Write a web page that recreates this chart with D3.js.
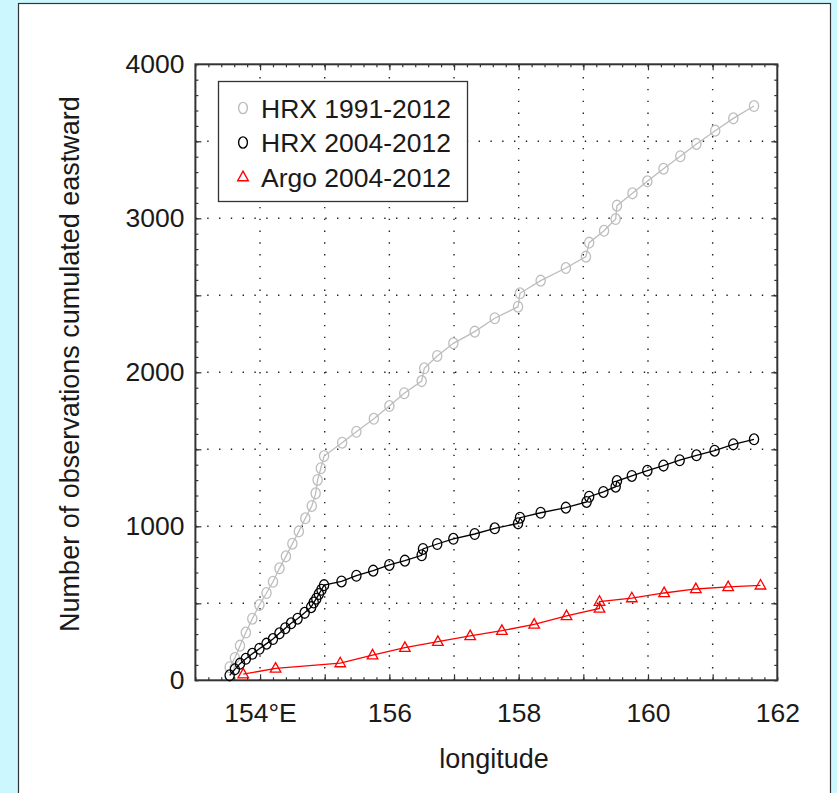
<!DOCTYPE html>
<html>
<head>
<meta charset="utf-8">
<script src="https://cdn.jsdelivr.net/npm/d3@7"></script>
<style>
  body { margin: 0; background: #ccf7ff; }
  svg { display: block; }
  text { font-family: "Liberation Sans", Arial, sans-serif; fill: #1a1a1a; }
  .grid line { stroke: #222; stroke-width: 1.4; stroke-dasharray: 1.4 10.4; }
  .axis line { stroke: #333; stroke-width: 1.2; }
  .axis text { font-size: 26.5px; }
</style>
</head>
<body>
<svg id="chart" width="837" height="793"></svg>
<script>
// cumulated counts (longitude, count)
var hrxAllLon = [153.53, 153.61, 153.69, 153.78, 153.88, 153.99, 154.10, 154.20, 154.30, 154.40,
  154.50, 154.60, 154.70, 154.80, 154.86, 154.89, 154.94, 154.99, 155.27, 155.49, 155.76,
  156.00, 156.23, 156.50, 156.54, 156.74, 156.99, 157.32, 157.63, 157.99, 158.02, 158.34,
  158.73, 159.04, 159.09, 159.32, 159.50, 159.52, 159.76, 159.99, 160.24, 160.50, 160.75,
  161.04, 161.32, 161.64];
var hrxAllObs = [85, 145, 225, 310, 400, 489, 567, 640, 727, 805,
  887, 967, 1052, 1132, 1214, 1301, 1377, 1456, 1543, 1614, 1698,
  1781, 1864, 1943, 2026, 2106, 2188, 2264, 2351, 2426, 2513, 2595,
  2677, 2751, 2842, 2919, 2995, 3082, 3162, 3240, 3322, 3403, 3483,
  3569, 3649, 3729];

var hrxRecLon = [153.53, 153.61, 153.69, 153.78, 153.88, 153.99, 154.10, 154.20, 154.30, 154.39,
  154.48, 154.58, 154.69, 154.79, 154.83, 154.87, 154.91, 154.95, 154.99, 155.26, 155.49,
  155.75, 156.00, 156.24, 156.50, 156.52, 156.74, 156.99, 157.32, 157.63, 157.99, 158.02,
  158.34, 158.73, 159.05, 159.09, 159.31, 159.50, 159.52, 159.75, 159.99, 160.24, 160.49,
  160.75, 161.03, 161.32, 161.64];
var hrxRecObs = [32, 71, 108, 140, 172, 205, 238, 268, 305, 338,
  370, 400, 438, 475, 505, 530, 560, 588, 618, 642, 679,
  712, 749, 777, 812, 853, 885, 919, 950, 987, 1019, 1056,
  1088, 1121, 1158, 1192, 1223, 1257, 1294, 1327, 1361, 1394, 1429,
  1461, 1491, 1532, 1565];

var argoLon = [153.74, 154.24, 155.24, 155.74, 156.24, 156.75, 157.25, 157.74, 158.24, 158.74,
  159.25, 159.25, 159.75, 160.25, 160.74, 161.24, 161.74];
var argoObs = [40, 77, 112, 163, 212, 251, 288, 322, 363, 418,
  467, 511, 534, 567, 593, 606, 617];

var seriesNames = ["HRX 1991-2012", "HRX 2004-2012", "Argo 2004-2012"];
var xLabelTicks = [154, 156, 158, 160, 162];
var yLabelTicks = [0, 1000, 2000, 3000, 4000];

var svg = d3.select("#chart");

var dims = { left: 195.4, right: 777.3, top: 64.3, bottom: 680.3 };

// white panel
svg.append("rect")
  .attr("x", 18.5).attr("y", 3.5)
  .attr("width", 812).attr("height", 800)
  .attr("fill", "white")
  .attr("stroke", "#333").attr("stroke-width", 1.2);

var xScale = d3.scaleLinear().domain([153, 162]).range([dims.left, dims.right]);
var yScale = d3.scaleLinear().domain([0, 4000]).range([dims.bottom, dims.top]);

// dotted grid
var grid = svg.append("g").attr("class", "grid");
grid.selectAll(".vg")
  .data(d3.range(154, 162))
  .enter().append("line")
  .attr("x1", (d) => xScale(d)).attr("x2", (d) => xScale(d))
  .attr("y1", dims.bottom).attr("y2", dims.top);
grid.selectAll(".hg")
  .data(d3.range(500, 4000, 500))
  .enter().append("line")
  .attr("y1", (d) => yScale(d)).attr("y2", (d) => yScale(d))
  .attr("x1", dims.left).attr("x2", dims.right);

// axes: inward ticks on all four sides
function drawAxis(axis, transform) {
  var g = svg.append("g").attr("class", "axis").attr("transform", transform).call(axis);
  g.select(".domain").remove();
  return g;
}
var minorX = d3.range(153, 162.01, 0.2).map((d) => +d.toFixed(1));
var minorY = d3.range(0, 4001, 100);

drawAxis(d3.axisBottom(xScale).tickValues(minorX).tickSize(-3).tickFormat(""),
  "translate(0," + dims.bottom + ")");
drawAxis(d3.axisTop(xScale).tickValues(minorX).tickSize(-3).tickFormat(""),
  "translate(0," + dims.top + ")");
drawAxis(d3.axisLeft(yScale).tickValues(minorY).tickSize(-3).tickFormat(""),
  "translate(" + dims.left + ",0)");
drawAxis(d3.axisRight(yScale).tickValues(minorY).tickSize(-3).tickFormat(""),
  "translate(" + dims.right + ",0)");

drawAxis(d3.axisBottom(xScale).tickValues(d3.range(154, 162)).tickSize(-6).tickFormat(""),
  "translate(0," + dims.bottom + ")");
drawAxis(d3.axisTop(xScale).tickValues(d3.range(154, 162)).tickSize(-6).tickFormat(""),
  "translate(0," + dims.top + ")");
drawAxis(d3.axisLeft(yScale).tickValues(d3.range(500, 4000, 500)).tickSize(-6).tickFormat(""),
  "translate(" + dims.left + ",0)");
drawAxis(d3.axisRight(yScale).tickValues(d3.range(500, 4000, 500)).tickSize(-6).tickFormat(""),
  "translate(" + dims.right + ",0)");

// tick labels
var xLab = drawAxis(d3.axisBottom(xScale).tickValues(xLabelTicks).tickSize(0).tickPadding(23)
  .tickFormat((d) => (d === 154 ? "154°E" : d)), "translate(0," + dims.bottom + ")");
xLab.selectAll("text").attr("fill", "#1a1a1a");
var yLab = drawAxis(d3.axisLeft(yScale).tickValues(yLabelTicks).tickSize(0).tickPadding(11)
  .tickFormat(d3.format("d")), "translate(" + dims.left + ",0)");
yLab.selectAll("text").attr("fill", "#1a1a1a");

// frame
svg.append("rect")
  .attr("x", dims.left).attr("y", dims.top)
  .attr("width", dims.right - dims.left).attr("height", dims.bottom - dims.top)
  .attr("fill", "none").attr("stroke", "#333").attr("stroke-width", 2);

// axis titles
svg.append("text")
  .text("longitude")
  .attr("x", 494).attr("y", 768)
  .attr("text-anchor", "middle")
  .style("font-size", "27px");
svg.append("text")
  .text("Number of observations cumulated eastward")
  .attr("transform", "translate(79,364) rotate(-90)")
  .attr("text-anchor", "middle")
  .style("font-size", "27px");

// series
var line = d3.line().x((d) => xScale(d[0])).y((d) => yScale(d[1]));
var triangle = "M0,-5.8L5.3,3.7L-5.3,3.7Z";

function drawSeries(lons, obs, color, marker) {
  var pts = d3.zip(lons, obs);
  var g = svg.append("g");
  g.append("path")
    .attr("d", line(pts))
    .attr("fill", "none").attr("stroke", color).attr("stroke-width", 1.3);
  if (marker === "circle") {
    g.selectAll("ellipse").data(pts).enter().append("ellipse")
      .attr("cx", (d) => xScale(d[0])).attr("cy", (d) => yScale(d[1]))
      .attr("rx", 4.6).attr("ry", 5.4)
      .attr("fill", "none").attr("stroke", color).attr("stroke-width", 1.3);
  } else {
    g.selectAll("path.mk").data(pts).enter().append("path")
      .attr("class", "mk")
      .attr("d", triangle)
      .attr("transform", (d) => "translate(" + xScale(d[0]) + "," + yScale(d[1]) + ")")
      .attr("fill", "none").attr("stroke", color).attr("stroke-width", 1.3);
  }
}
drawSeries(hrxAllLon, hrxAllObs, "#bdbdbd", "circle");
drawSeries(hrxRecLon, hrxRecObs, "#000", "circle");
drawSeries(argoLon, argoObs, "#ff0000", "triangle");

// legend
var legend = svg.append("g");
legend.append("rect")
  .attr("x", 218.5).attr("y", 81.5).attr("width", 249).attr("height", 120)
  .attr("fill", "white").attr("stroke", "#333").attr("stroke-width", 1.3);
var legColors = ["#bdbdbd", "#000", "#ff0000"];
var legMarks = ["circle", "circle", "triangle"];
seriesNames.forEach((name, i) => {
  var cy = 108 + i * 34.5;
  if (legMarks[i] === "circle") {
    legend.append("ellipse").attr("cx", 243).attr("cy", cy).attr("rx", 4.4).attr("ry", 5.6)
      .attr("fill", "none").attr("stroke", legColors[i]).attr("stroke-width", 1.4);
  } else {
    legend.append("path").attr("d", triangle).attr("transform", "translate(243," + cy + ")")
      .attr("fill", "none").attr("stroke", legColors[i]).attr("stroke-width", 1.4);
  }
  legend.append("text").text(name)
    .attr("x", 261).attr("y", cy + 9.5)
    .style("font-size", "26.5px");
});
</script>
</body>
</html>
